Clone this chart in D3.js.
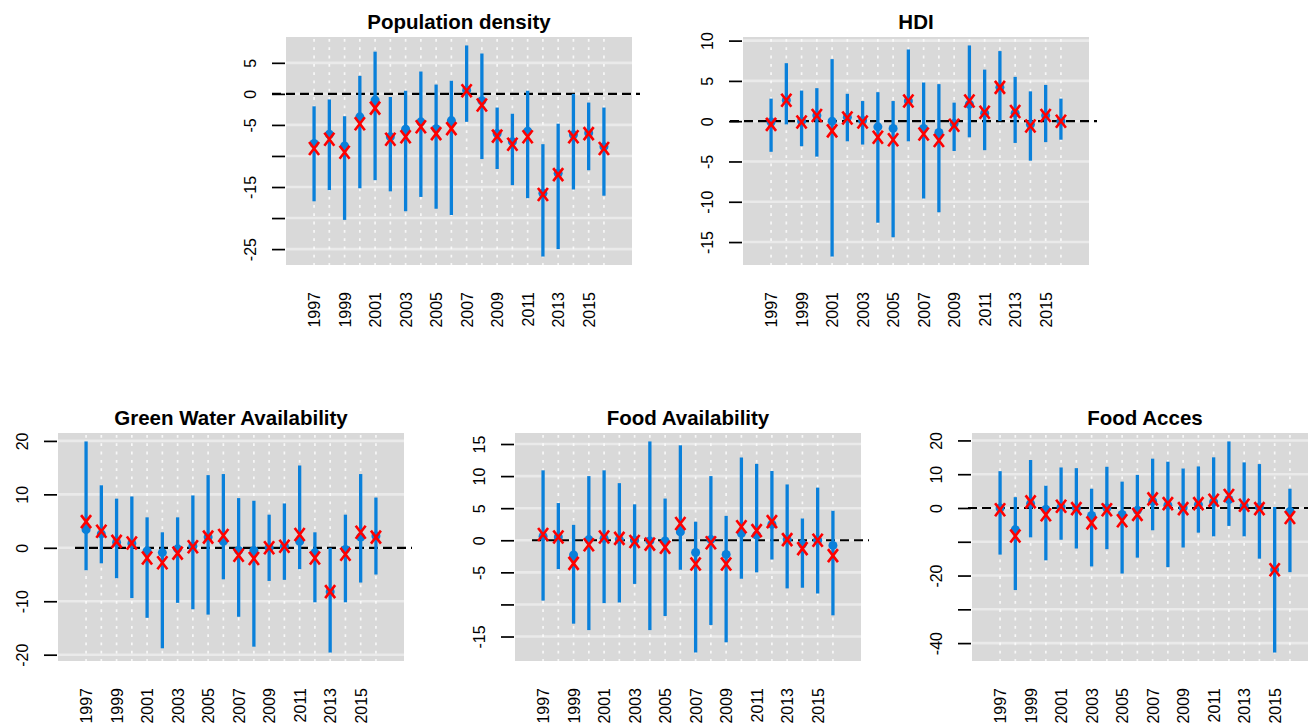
<!DOCTYPE html>
<html>
<head>
<meta charset="utf-8">
<script src="https://cdn.jsdelivr.net/npm/d3@7"></script>
<style>
  html, body { margin: 0; padding: 0; background: #ffffff; }
  svg { display: block; font-family: "Liberation Sans", Arial, sans-serif; }
</style>
</head>
<body>
<svg id="chart" width="1308" height="726"></svg>
<script>
// Years on the x axis
const years = [1997, 1998, 1999, 2000, 2001, 2002, 2003, 2004, 2005, 2006,
               2007, 2008, 2009, 2010, 2011, 2012, 2013, 2014, 2015, 2016];
const yearLabels = [1997, 1999, 2001, 2003, 2005, 2007, 2009, 2011, 2013, 2015];

// Population density: interval bounds, point estimate, mean
const popLow  = [-17.3, -15.5, -20.3, -15.2, -13.9, -15.7, -18.9, -16.6, -18.5, -19.5,
                 -4.5, -10.5, -12.1, -14.7, -16.8, -26.2, -25.0, -15.4, -12.3, -16.4];
const popHigh = [-2.0, -0.9, -3.6, 2.9, 6.8, -0.5, 0.5, 3.6, 1.5, 2.1,
                 7.8, 6.5, -2.2, -3.2, 0.5, -8.1, -4.8, 0.0, -1.4, -2.2];
const popEst  = [-8.0, -6.5, -8.4, -3.7, -1.0, -6.9, -5.7, -4.5, -5.6, -4.3,
                 0.6, -1.1, -6.4, -7.7, -6.0, -16.0, -12.8, -6.6, -6.3, -8.5];
const popMean = [-8.8, -7.3, -9.4, -4.8, -2.3, -7.3, -6.9, -5.3, -6.4, -5.6,
                 0.5, -1.8, -6.8, -8.1, -6.9, -16.2, -13.0, -6.9, -6.4, -8.8];
const popTicks = [5, 0, -5, -10, -15, -20, -25];
const popTickLabels = ["5", "0", "-5", "", "-15", "", "-25"];

// HDI
const hdiLow  = [-3.8, -0.4, -3.1, -4.4, -16.8, -2.5, -2.9, -12.6, -14.4, -2.5,
                 -9.6, -11.3, -3.7, -2.0, -3.6, 0.0, -2.7, -4.9, -2.6, -2.3];
const hdiHigh = [2.8, 7.2, 3.8, 4.1, 7.7, 3.4, 2.5, 3.6, 2.5, 8.9,
                 4.8, 4.6, 2.3, 9.4, 6.4, 8.7, 5.5, 3.7, 4.5, 2.8];
const hdiEst  = [-0.1, 2.6, 0.0, 0.7, 0.0, 0.5, 0.1, -0.7, -0.9, 2.5,
                 -0.9, -1.4, -0.3, 2.1, 1.0, 4.2, 1.0, -0.4, 0.7, 0.0];
const hdiMean = [-0.4, 2.6, -0.1, 0.7, -1.2, 0.4, -0.1, -2.0, -2.3, 2.5,
                 -1.6, -2.4, -0.5, 2.5, 1.1, 4.2, 1.2, -0.6, 0.7, 0.0];
const hdiTicks = [10, 5, 0, -5, -10, -15];
const hdiTickLabels = ["10", "5", "0", "-5", "-10", "-15"];

// Green water availability
const gwLow  = [-4.2, -2.9, -5.7, -9.4, -13.1, -18.8, -10.3, -11.5, -12.5, -5.9,
                -12.9, -18.5, -6.2, -6.0, -4.0, -10.2, -19.6, -10.2, -6.5, -5.0];
const gwHigh = [19.9, 11.7, 9.2, 9.6, 5.7, 2.9, 5.7, 9.8, 13.6, 13.8,
                9.3, 8.8, 6.2, 8.3, 15.4, 2.9, 0.0, 6.2, 13.8, 9.4];
const gwEst  = [3.4, 2.6, 1.0, 0.8, -0.6, -0.9, -0.2, 0.3, 2.0, 1.2,
                -0.5, -0.5, 0.0, 0.3, 1.2, -0.9, -8.2, -0.3, 2.0, 2.2];
const gwMean = [4.9, 3.1, 1.2, 0.9, -1.9, -2.8, -1.0, 0.2, 2.0, 2.3,
                -1.4, -2.0, 0.0, 0.3, 2.5, -1.9, -8.2, -1.2, 2.9, 2.0];
const gwTicks = [20, 10, 0, -10, -20];
const gwTickLabels = ["20", "10", "0", "-10", "-20"];

// Food availability
const faLow  = [-9.4, -4.5, -13.0, -14.0, -9.8, -9.7, -6.8, -14.0, -11.8, -4.6,
                -17.5, -13.2, -15.9, -6.0, -5.0, -3.0, -7.5, -7.4, -8.3, -11.7];
const faHigh = [10.9, 5.8, 2.4, 10.0, 10.9, 8.9, 5.6, 15.4, 6.5, 14.8,
                2.9, 10.0, 3.8, 12.9, 11.9, 10.8, 8.7, 3.4, 8.2, 4.6];
const faEst  = [0.6, 0.5, -2.3, 0.1, 0.3, 0.1, 0.0, -0.1, -0.1, 1.3,
                -1.9, 0.1, -2.2, 1.1, 0.8, 2.5, 0.1, -0.6, 0.0, -0.8];
const faMean = [0.9, 0.5, -3.6, -0.7, 0.5, 0.3, -0.2, -0.6, -1.1, 2.6,
                -3.7, -0.4, -3.7, 2.1, 1.5, 2.9, 0.1, -1.3, 0.0, -2.4];
const faTicks = [15, 10, 5, 0, -5, -10, -15];
const faTickLabels = ["15", "10", "5", "0", "-5", "", "-15"];

// Food access
const fcLow  = [-13.8, -24.3, -8.7, -15.5, -9.4, -12.0, -17.3, -12.2, -19.4, -14.7,
                -6.6, -17.5, -11.7, -7.3, -8.4, -5.3, -8.4, -15.0, -42.8, -19.0];
const fcHigh = [10.9, 3.2, 14.2, 6.6, 12.0, 11.8, 5.7, 12.2, 7.8, 9.8,
                14.6, 13.7, 11.7, 12.3, 15.0, 19.7, 13.5, 13.0, 0.3, 5.7];
const fcEst  = [0.0, -6.4, 1.3, -0.4, 0.3, 0.0, -2.2, 0.0, -1.9, -0.7,
                2.0, 0.8, 0.1, 1.0, 1.8, 2.5, 0.6, 0.3, -18.3, -1.0];
const fcMean = [-0.5, -8.3, 1.8, -2.0, 0.5, -0.2, -4.4, -0.5, -3.8, -1.9,
                2.7, 1.3, -0.2, 1.3, 2.3, 3.7, 0.8, -0.2, -18.3, -2.8];
const fcTicks = [20, 10, 0, -10, -20, -30, -40];
const fcTickLabels = ["20", "10", "0", "", "-20", "", "-40"];

// Panel placement (plot region top-left corner) and series
const panels = [
  { title: "Population density", left: 286, top: 37, low: popLow, high: popHigh, est: popEst, mean: popMean, ticks: popTicks, tickLabels: popTickLabels, refStart: -14 },
  { title: "HDI", left: 743, top: 37, low: hdiLow, high: hdiHigh, est: hdiEst, mean: hdiMean, ticks: hdiTicks, tickLabels: hdiTickLabels, refStart: -13 },
  { title: "Green Water Availability", left: 58, top: 433, low: gwLow, high: gwHigh, est: gwEst, mean: gwMean, ticks: gwTicks, tickLabels: gwTickLabels, refStart: 17 },
  { title: "Food Availability", left: 515, top: 433, low: faLow, high: faHigh, est: faEst, mean: faMean, ticks: faTicks, tickLabels: faTickLabels, refStart: 17 },
  { title: "Food Acces", left: 972, top: 433, low: fcLow, high: fcHigh, est: fcEst, mean: fcMean, ticks: fcTicks, tickLabels: fcTickLabels, refStart: -4 }
];

const W = 346, H = 228;
const BLUE = "#0a80da";
const svg = d3.select("#chart");

// R-style 4% range extension
function padded(lo, hi) {
  const d = (hi - lo) * 0.04;
  return [lo - d, hi + d];
}

panels.forEach(p => {
  const x = d3.scaleLinear().domain(padded(1996, 2017)).range([0, W]);
  const yExt = padded(d3.min(p.low), d3.max(p.high));
  const y = d3.scaleLinear().domain(yExt).range([H, 0]);

  const g = svg.append("g").attr("transform", `translate(${p.left},${p.top})`);

  // panel background
  g.append("rect").attr("x", 0).attr("y", 0).attr("width", W).attr("height", H)
    .attr("fill", "#d9d9d9");

  // horizontal grid at tick values
  g.selectAll("line.hgrid").data(p.ticks).join("line")
    .attr("class", "hgrid")
    .attr("x1", 0).attr("x2", W)
    .attr("y1", d => y(d)).attr("y2", d => y(d))
    .attr("stroke", "#eaeaea").attr("stroke-width", 2.6);

  // dotted vertical guides at each year
  g.selectAll("line.vgrid").data(years).join("line")
    .attr("class", "vgrid")
    .attr("x1", d => x(d)).attr("x2", d => x(d))
    .attr("y1", 2).attr("y2", H)
    .attr("stroke", "#ffffff").attr("stroke-opacity", 0.8)
    .attr("stroke-width", 1.7).attr("stroke-dasharray", "2.8,5.5");

  // y axis ticks
  const yAxis = d3.axisLeft(y).tickValues(p.ticks)
    .tickFormat((d, i) => p.tickLabels[i]).tickSize(13).tickPadding(17);
  const ya = g.append("g").call(yAxis);
  ya.select(".domain").remove();
  ya.selectAll(".tick line").attr("stroke", "#000").attr("stroke-width", 1.7)
    .attr("transform", "translate(-1,0)");
  ya.selectAll(".tick text")
    .attr("font-size", 16).attr("fill", "#000")
    .attr("text-anchor", "middle").attr("dy", 0)
    .attr("x", null)
    .attr("transform", "translate(-30,0) rotate(-90)");

  // x axis labels (rotated, no ticks)
  const xAxis = d3.axisBottom(x).tickValues(yearLabels)
    .tickFormat(d3.format("d")).tickSize(0).tickPadding(0);
  const xa = g.append("g").attr("transform", `translate(0,${H})`).call(xAxis);
  xa.select(".domain").remove();
  xa.selectAll(".tick text")
    .attr("font-size", 16).attr("fill", "#000")
    .attr("text-anchor", "end").attr("dy", 0).attr("y", null)
    .attr("transform", "translate(5.5,27) rotate(-90)");

  // zero reference line
  g.append("line")
    .attr("x1", p.refStart).attr("x2", W + 8)
    .attr("y1", y(0)).attr("y2", y(0))
    .attr("stroke", "#000").attr("stroke-width", 2.2)
    .attr("stroke-dasharray", "9,5");

  const rows = years.map((yr, i) => ({ yr, lo: p.low[i], hi: p.high[i], est: p.est[i], mean: p.mean[i] }));

  // interval bars
  g.selectAll("line.ci").data(rows).join("line")
    .attr("class", "ci")
    .attr("x1", d => x(d.yr)).attr("x2", d => x(d.yr))
    .attr("y1", d => y(d.lo)).attr("y2", d => y(d.hi))
    .attr("stroke", BLUE).attr("stroke-width", 3.3);

  // point estimates
  g.selectAll("circle.est").data(rows).join("circle")
    .attr("class", "est")
    .attr("cx", d => x(d.yr)).attr("cy", d => y(d.est)).attr("r", 4.5)
    .attr("fill", BLUE);

  // mean markers
  g.selectAll("path.mean").data(rows).join("path")
    .attr("class", "mean")
    .attr("d", d => {
      const cx = x(d.yr), cy = y(d.mean), a = 5, b = 6.5;
      return `M${cx - a},${cy - b}L${cx + a},${cy + b}M${cx - a},${cy + b}L${cx + a},${cy - b}`;
    })
    .attr("stroke", "#ff0000").attr("stroke-width", 2.6).attr("fill", "none");

  // title
  svg.append("text")
    .attr("x", p.left + W / 2).attr("y", p.top - 8)
    .attr("text-anchor", "middle")
    .attr("font-size", 20.5).attr("font-weight", "bold").attr("fill", "#000")
    .text(p.title);
});
</script>
</body>
</html>
